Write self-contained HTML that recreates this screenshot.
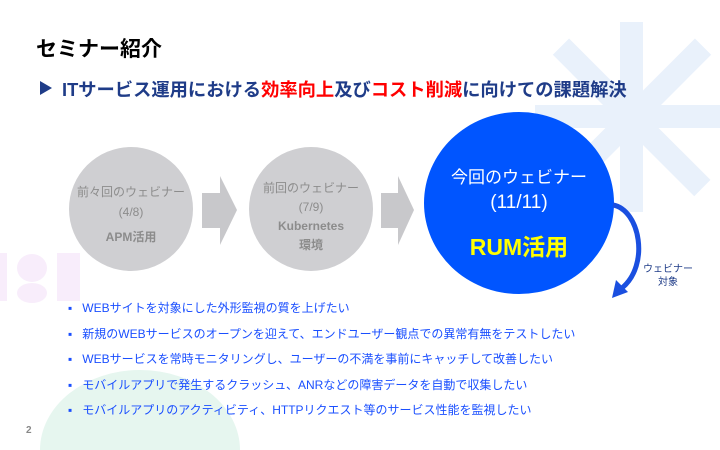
<!DOCTYPE html>
<html><head><meta charset="utf-8"><style>
html,body{margin:0;width:720px;height:450px;overflow:hidden}
body{background:#fff;position:relative;font-family:"Liberation Sans","Noto Sans CJK JP",sans-serif}
.a{position:absolute;white-space:nowrap}
</style></head><body>
<svg class="a" style="left:0;top:0" width="720" height="450">
<ellipse cx="140" cy="450" rx="100" ry="80" fill="#e6f6ef"/>
<rect x="0" y="253" width="7" height="48" fill="#f8edfb"/>
<rect x="57" y="253" width="23" height="48" fill="#f8edfb"/>
<ellipse cx="32" cy="268" rx="15" ry="14" fill="#f8edfb"/>
<ellipse cx="32" cy="293" rx="15" ry="10" fill="#f8edfb"/>
<g fill="#e9f1fb">
<rect x="620" y="22" width="23" height="190"/>
<rect x="535" y="105" width="185" height="23"/>
<g transform="translate(632,117) rotate(45)"><rect x="-100" y="-11" width="200" height="23"/></g>
<g transform="translate(632,117) rotate(-45)"><rect x="-100" y="-11" width="200" height="23"/></g>
</g>
<circle cx="131" cy="209" r="62" fill="#cfcfd2"/>
<circle cx="311" cy="209" r="62" fill="#cfcfd2"/>
<polygon points="202,193 220,193 220,176 237,210 220,245 220,228 202,228" fill="#c8c8cb"/>
<polygon points="381,193 398,193 398,176 414,210 398,245 398,228 381,228" fill="#c8c8cb"/>
<ellipse cx="519" cy="203" rx="95" ry="91" fill="#0055ff"/>
<path d="M613,205 C640,210 650,265 622,288" stroke="#1a4fe0" stroke-width="5" fill="none"/>
<polygon points="612,298 616,280 628,292" fill="#1a4fe0"/>
<polygon points="40,81 52,88 40,95" fill="#1f3c88"/>
</svg>
<div class="a" style="left:36px;top:33px;font-size:21px;font-weight:bold;color:#000">セミナー紹介</div>
<div class="a" style="left:62px;top:76px;font-size:18.3px;font-weight:bold;color:#1f3c88">ITサービス運用における<span style="color:#f00">効率向上</span>及び<span style="color:#f00">コスト削減</span>に向けての課題解決</div>
<div class="a" style="left:69px;top:182px;width:124px;text-align:center;color:#8c8c8c;font-size:12px;line-height:20px">前々回のウェビナー<br>(4/8)<br><b style="line-height:30px">APM活用</b></div>
<div class="a" style="left:249px;top:179px;width:124px;text-align:center;color:#8c8c8c;font-size:12px;line-height:19px">前回のウェビナー<br>(7/9)<br><b>Kubernetes<br>環境</b></div>
<div class="a" style="left:424px;top:165px;width:190px;text-align:center;color:#fff;font-size:17px;line-height:25px">今回のウェビナー<br><span style="font-size:19px">(11/11)</span></div>
<div class="a" style="left:424px;top:228px;width:190px;text-align:center;color:#ff0;font-size:23px;font-weight:bold">RUM活用</div>
<div class="a" style="left:640px;top:263px;width:56px;text-align:center;color:#1f3c88;font-size:10px;line-height:13px">ウェビナー<br>対象</div>
<div class="a" style="left:68px;top:296px;color:#1a4fff;font-size:12px;line-height:25.5px">
<div>▪&nbsp;&nbsp; WEBサイトを対象にした外形監視の質を上げたい</div>
<div>▪&nbsp;&nbsp; 新規のWEBサービスのオープンを迎えて、エンドユーザー観点での異常有無をテストしたい</div>
<div>▪&nbsp;&nbsp; WEBサービスを常時モニタリングし、ユーザーの不満を事前にキャッチして改善したい</div>
<div>▪&nbsp;&nbsp; モバイルアプリで発生するクラッシュ、ANRなどの障害データを自動で収集したい</div>
<div>▪&nbsp;&nbsp; モバイルアプリのアクティビティ、HTTPリクエスト等のサービス性能を監視したい</div>
</div>
<div class="a" style="left:26px;top:425px;color:#888;font-size:10px;font-weight:bold">2</div>
</body></html>
